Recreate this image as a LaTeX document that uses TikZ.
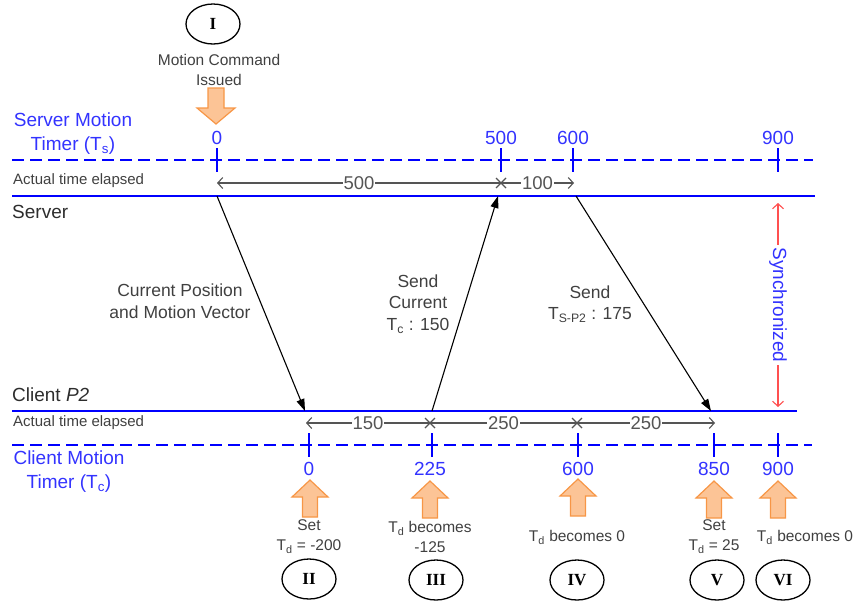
\documentclass[tikz,border=0pt]{standalone}
\usepackage{fontspec}
\setmainfont{Liberation Sans}
\newfontfamily\romanfont{Liberation Serif}
\usetikzlibrary{arrows.meta,shapes.geometric}
\definecolor{tblue}{RGB}{51,51,255}
\definecolor{lblue}{RGB}{0,0,255}
\definecolor{tgray}{RGB}{64,64,64}
\definecolor{tdark}{RGB}{45,45,45}
\definecolor{agray}{RGB}{85,85,85}
\definecolor{oedge}{RGB}{247,150,70}
\definecolor{ofill}{RGB}{252,196,150}
\definecolor{sred}{RGB}{255,80,80}
\begin{document}
\begin{tikzpicture}[x=1pt,y=-1pt,
  timeline/.style={lblue, line width=2.2pt},
  dashline/.style={lblue, line width=1.6pt, dash pattern=on 12pt off 6pt},
  tickmark/.style={lblue, line width=1.8pt},
  bluelabel/.style={text=tblue, font=\fontsize{19}{24}\selectfont, align=center, inner sep=0pt},
  numlabel/.style={text=tblue, font=\fontsize{19}{22}\selectfont, inner sep=0pt},
  linelabel/.style={text=tdark, font=\fontsize{19}{22}\selectfont, inner sep=0pt, anchor=west},
  actlabel/.style={text=tgray, font=\fontsize{15}{18}\selectfont, inner sep=0pt, anchor=west},
  graylabel/.style={text=tgray, font=\fontsize{17.5}{21.5}\selectfont, align=center, inner sep=0pt},
  smalllabel/.style={text=tgray, font=\fontsize{15.5}{20}\selectfont, align=center, inner sep=0pt},
  msg/.style={black, line width=1.1pt, -{Triangle[length=12pt,width=8pt]}},
  elapsed/.style={agray, line width=1.1pt},
  elapnum/.style={text=agray, font=\fontsize{18.5}{20}\selectfont, fill=white, inner sep=1pt},
  barb/.tip={Straight Barb[length=5pt,width=11pt]},
  xmark/.style={agray, line width=1.1pt},
  phase/.style={draw, ellipse, line width=1.3pt, minimum width=54pt, minimum height=40pt, inner sep=0pt, font=\romanfont\bfseries\fontsize{17}{20}\selectfont},
  blockup/.pic={\draw[oedge, fill=ofill, line width=1.2pt, line join=miter] (0,0) -- (18,17) -- (7.5,17) -- (7.5,37) -- (-7.5,37) -- (-7.5,17) -- (-18,17) -- cycle;},
  blockdown/.pic={\draw[oedge, fill=ofill, line width=1.2pt, line join=miter] (0,0) -- (19,-16) -- (8,-16) -- (8,-36) -- (-8,-36) -- (-8,-16) -- (-19,-16) -- cycle;}
]
\path[use as bounding box] (0,0) rectangle (858,603);

% ---------- top: phase I ----------
\node[phase] (pI) at (213,24) {I};
\node[smalllabel] (cmd) at (219,70) {Motion Command\\Issued};
\pic (arrI) at (216,124) {blockdown};

% ---------- server timer ----------
\node[bluelabel] (stimer) at (73,134) {Server Motion\\Timer (T\textsubscript{s})};
\coordinate (sdL) at (12,160);
\coordinate (sdR) at (813,160);
\draw[dashline] (sdL) -- (sdR);
\foreach \x/\t in {217/0,501/500,573/600,778/900}{
  \draw[tickmark] (\x,148) -- (\x,172);
  \node[numlabel] (sn\t) at (\x,138) {\t};
}

% actual elapsed (server)
\node[actlabel] (act1) at (13,181) {Actual time elapsed};
\coordinate (e0) at (217,183);
\coordinate (e500) at (501,183);
\coordinate (e600) at (574,183);
\draw[elapsed, barb-] (e0) -- node[elapnum] (n500) {500} (e500);
\draw[elapsed, -barb] (e500) -- node[elapnum] (n100) {100} (e600);
\draw[xmark] (e500) ++(-5,-5) -- ++(10,10) ++(0,-10) -- ++(-10,10);

% server line
\coordinate (srvL) at (12,196);
\coordinate (srvR) at (815,196);
\draw[timeline] (srvL) -- (srvR);
\node[linelabel] (server) at (12,212) {Server};

% ---------- client line ----------
\coordinate (cliL) at (12,411);
\coordinate (cliR) at (797,411);
\draw[timeline] (cliL) -- (cliR);
\node[linelabel] (client) at (12,395) {Client \textit{P2}};

% messages
\coordinate (S0) at (217,196);
\coordinate (S500) at (498,196);
\coordinate (S600) at (576,196);
\coordinate (C150) at (305,411);
\coordinate (C225) at (432,411);
\coordinate (C850) at (711,411);
\draw[msg] (S0) -- (C150);
\draw[msg] (C225) -- (S500);
\draw[msg] (S600) -- (C850);
\node[graylabel] (lab1) at (180,301) {Current Position\\and Motion Vector};
\node[graylabel] (lab2) at (418,304) {Send\\Current\\T\textsubscript{c} : 150};
\node[graylabel] (lab3) at (590,304) {Send\\T\textsubscript{S-P2} : 175};

% synchronized
\coordinate (syT) at (778,203);
\coordinate (syB) at (778,407);
\draw[sred, line width=1.1pt, barb-barb] (syT) -- node[rotate=-90, bluelabel, fill=white, inner sep=2pt] (sync) {Synchronized} (syB);

% actual elapsed (client)
\node[actlabel] (act2) at (13,423) {Actual time elapsed};
\coordinate (f0) at (306,423);
\coordinate (f225) at (430,423);
\coordinate (f600) at (577,423);
\coordinate (f850) at (715,423);
\draw[elapsed, barb-] (f0) -- node[elapnum] (n150) {150} (f225);
\draw[elapsed] (f225) -- node[elapnum] (n250a) {250} (f600);
\draw[elapsed, -barb] (f600) -- node[elapnum] (n250b) {250} (f850);
\draw[xmark] (f225) ++(-5,-5) -- ++(10,10) ++(0,-10) -- ++(-10,10);
\draw[xmark] (f600) ++(-5,-5) -- ++(10,10) ++(0,-10) -- ++(-10,10);

% client timer
\node[bluelabel] (ctimer) at (69,472) {Client Motion\\Timer (T\textsubscript{c})};
\coordinate (cdL) at (12,445);
\coordinate (cdR) at (812,445);
\draw[dashline] (cdL) -- (cdR);
\foreach \x/\t in {309/0,432/225,578/600,714/850,778/900}{
  \draw[tickmark] (\x,433) -- (\x,457);
}
\node[numlabel] (cn0) at (309,469) {0};
\node[numlabel] (cn225) at (430,469) {225};
\node[numlabel] (cn600) at (578,469) {600};
\node[numlabel] (cn850) at (714,469) {850};
\node[numlabel] (cn900) at (778,469) {900};

% orange up arrows
\pic (aII) at (310,480) {blockup};
\pic (aIII) at (430,481) {blockup};
\pic (aIV) at (578,479) {blockup};
\pic (aV) at (714,481) {blockup};
\pic (aVI) at (778,481) {blockup};

% bottom labels
\node[smalllabel] (tII) at (309,537) {Set\\T\textsubscript{d} = -200};
\node[smalllabel] (tIII) at (430,537) {T\textsubscript{d} becomes\\-125};
\node[smalllabel] (tIV) at (577,537) {T\textsubscript{d} becomes 0};
\node[smalllabel] (tV) at (714,537) {Set\\T\textsubscript{d} = 25};
\node[smalllabel] (tVI) at (805,537) {T\textsubscript{d} becomes 0};

% phase ellipses
\node[phase] (pII) at (309,579) {II};
\node[phase] (pIII) at (436,580) {III};
\node[phase] (pIV) at (577,580) {IV};
\node[phase] (pV) at (717,580) {V};
\node[phase] (pVI) at (783,580) {VI};
\end{tikzpicture}
\end{document}
